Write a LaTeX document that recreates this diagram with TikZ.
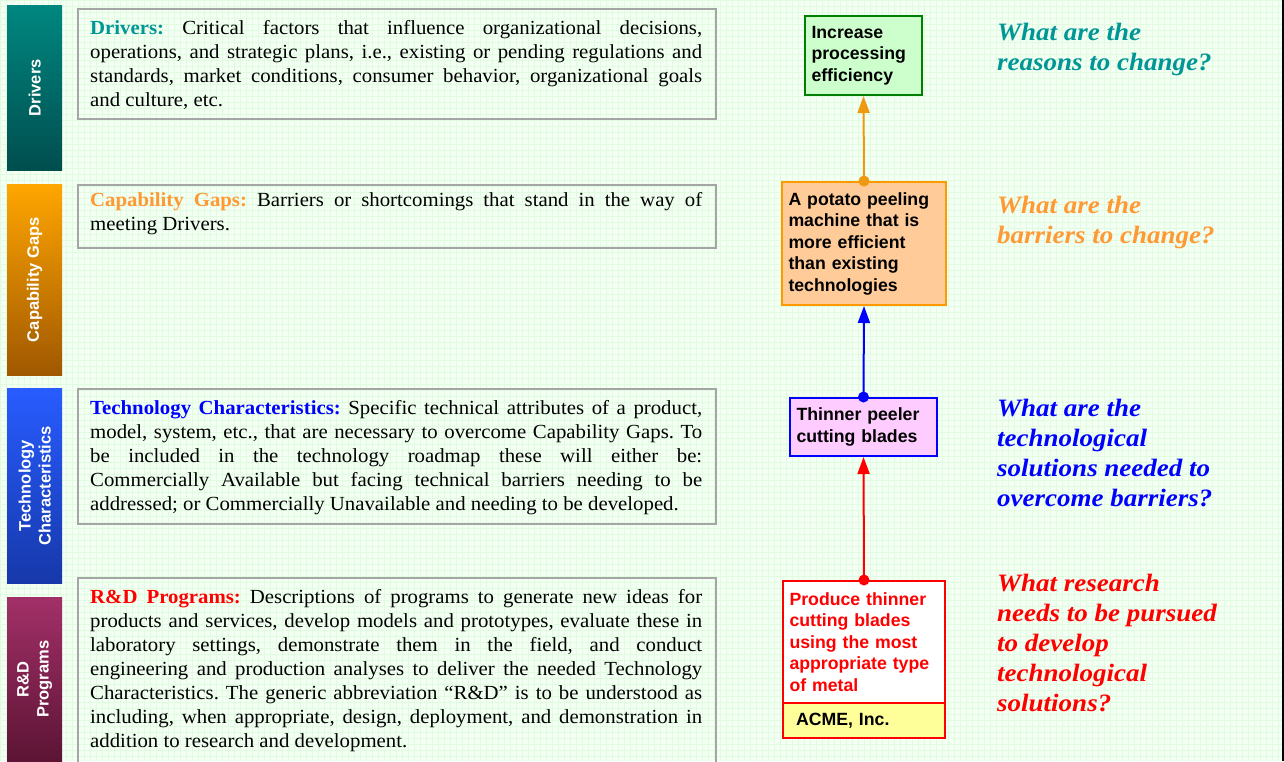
\documentclass[tikz,border=0pt]{standalone}
\usepackage{fontspec}
\setmainfont{Liberation Serif}[FakeStretch=1.04]
\setsansfont{Liberation Sans}
\newfontfamily\qfont{Liberation Serif}[FakeStretch=1.08]
\usetikzlibrary{arrows.meta}
\frenchspacing

% palette
\definecolor{bgfill}{RGB}{243,255,243}
\definecolor{gridline}{RGB}{225,251,225}
\definecolor{tealtop}{RGB}{0,135,128}
\definecolor{tealbot}{RGB}{0,78,78}
\definecolor{orgtop}{RGB}{255,166,0}
\definecolor{orgbot}{RGB}{160,88,0}
\definecolor{blutop}{RGB}{40,92,255}
\definecolor{blubot}{RGB}{22,56,170}
\definecolor{martop}{RGB}{162,48,104}
\definecolor{marbot}{RGB}{92,20,52}
\definecolor{graybd}{RGB}{165,165,165}
\definecolor{tealtxt}{RGB}{0,150,150}
\definecolor{orgtxt}{RGB}{255,153,51}
\definecolor{goalfill}{RGB}{204,255,204}
\definecolor{goalbd}{RGB}{0,128,0}
\definecolor{machfill}{RGB}{255,204,153}
\definecolor{machbd}{RGB}{255,153,0}
\definecolor{bladefill}{RGB}{255,204,255}
\definecolor{acmefill}{RGB}{255,255,153}
\definecolor{arrowor}{RGB}{238,153,17}

\begin{document}
\begin{tikzpicture}[x=1pt,y=-1pt,
  bar/.style={draw=none, anchor=north west, minimum width=55pt, inner sep=0pt},
  barlabel/.style={text=white, font=\sffamily\bfseries\fontsize{16.5}{20}\selectfont, rotate=90, align=center, inner sep=0pt},
  descbox/.style={draw=graybd, line width=1.5pt, anchor=north west, inner sep=0pt, minimum width=638pt},
  desctext/.style={anchor=base west, inner sep=0pt, font=\fontsize{20}{24}\selectfont},
  question/.style={anchor=base west, inner sep=0pt, font=\qfont\bfseries\itshape\fontsize{25}{30}\selectfont},
  stepbox/.style={draw, line width=2pt, anchor=north west, inner xsep=6.5pt, inner ysep=0pt, align=left,
    font=\sffamily\bfseries\fontsize{17.7}{21.5}\selectfont},
  conn/.style={line width=2pt, -{Triangle[length=17pt,width=12pt]}},
  startdot/.style={radius=5.5pt}
]
\useasboundingbox (0,0) rectangle (1284,761);
\clip (0,0) rectangle (1284,761);

% squared paper
\fill[bgfill] (0,0) rectangle (1284,761);
\foreach \i in {0,6,...,1284} \draw[gridline, line width=0.5pt] (\i,0) -- (\i,761);
\foreach \j in {0,6,...,761} \draw[gridline, line width=0.5pt] (0,\j) -- (1284,\j);
\draw[black, line width=2.5pt] (1282.8,0) -- (1282.8,761);

% layer bars
\node[bar, minimum height=165pt, top color=tealtop, bottom color=tealbot] (bdrv) at (7,5) {};
\node[barlabel] (ldrv) at (bdrv.center) {Drivers};
\node[bar, minimum height=191pt, top color=orgtop, bottom color=orgbot] (bcap) at (7,184) {};
\node[barlabel] (lcap) at (bcap.center) {Capability Gaps};
\node[bar, minimum height=195pt, top color=blutop, bottom color=blubot] (btech) at (7,388) {};
\node[barlabel] (ltech) at (btech.center) {Technology\\Characteristics};
\node[bar, minimum height=164pt, top color=martop, bottom color=marbot] (brd) at (7,597) {};
\node[barlabel] (lrd) at (brd.center) {R\&D\\Programs};

% definitions
\node[descbox, minimum height=110pt] (xdrv) at (77,8) {};
\node[desctext] (tdrv) at (90,34) {\parbox[t]{612pt}{\textcolor{tealtxt}{\textbf{Drivers:}} Critical factors that influence organizational decisions,\linebreak
operations, and strategic plans, i.e., existing or pending regulations and\linebreak
standards, market conditions, consumer behavior, organizational goals\linebreak
and culture, etc.}};

\node[descbox, minimum height=63pt] (xcap) at (77,184) {};
\node[desctext] (tcap) at (90,206) {\parbox[t]{612pt}{\textcolor{orgtxt}{\textbf{Capability Gaps:}} Barriers or shortcomings that stand in the way of\linebreak
meeting Drivers.}};

\node[descbox, minimum height=135pt] (xtech) at (77,388) {};
\node[desctext] (ttech) at (90,414) {\parbox[t]{612pt}{\textcolor{blue}{\textbf{Technology Characteristics:}} Specific technical attributes of a product,\linebreak
model, system, etc., that are necessary to overcome Capability Gaps. To\linebreak
be included in the technology roadmap these will either be:\linebreak
Commercially Available but facing technical barriers needing to be\linebreak
addressed; or Commercially Unavailable and needing to be developed.}};

\node[descbox, minimum height=200pt] (xrd) at (77,577) {};
\node[desctext] (trd) at (90,603) {\parbox[t]{612pt}{\textcolor{red}{\textbf{R\&D Programs:}} Descriptions of programs to generate new ideas for\linebreak
products and services, develop models and prototypes, evaluate these in\linebreak
laboratory settings, demonstrate them in the field, and conduct\linebreak
engineering and production analyses to deliver the needed Technology\linebreak
Characteristics. The generic abbreviation “R\&D” is to be understood as\linebreak
including, when appropriate, design, deployment, and demonstration in\linebreak
addition to research and development.}};

% roadmap chain
\node[stepbox, draw=goalbd, fill=goalfill, minimum width=117pt, minimum height=79pt, text width=104pt] (goal) at (804,15)
  {Increase\\processing\\efficiency};
\node[stepbox, draw=machbd, fill=machfill, minimum width=164pt, minimum height=123pt, text width=151pt] (mach) at (781,181)
  {A potato peeling\\machine that is\\more efficient\\than existing\\technologies};
\node[stepbox, draw=blue, fill=bladefill, minimum width=147pt, minimum height=58pt, text width=134pt] (blade) at (789,397)
  {Thinner peeler\\cutting blades};
\node[stepbox, draw=red, fill=white, text=red, minimum width=162pt, minimum height=122pt, text width=149pt] (prog) at (782,580)
  {Produce thinner\\cutting blades\\using the most\\appropriate type\\of metal};
\node[stepbox, draw=red, fill=acmefill, inner xsep=13pt, minimum width=162pt, minimum height=35pt, text width=136pt] (acme) at (782,702)
  {ACME, Inc.};

\draw[conn, arrowor] (mach.north) -- (goal.south);
\fill[arrowor, startdot] (mach.north) circle;
\draw[conn, blue] (blade.north) -- (mach.south);
\fill[blue, startdot] (blade.north) circle;
\draw[conn, red] (prog.north) -- (blade.south);
\fill[red, startdot] (prog.north) circle;

% guiding questions
\node[question, text=tealtxt] (qdrv) at (997,40) {\parbox[t]{280pt}{What are the\\reasons to change?}};
\node[question, text=orgtxt] (qcap) at (997,213) {\parbox[t]{280pt}{What are the\\barriers to change?}};
\node[question, text=blue] (qtech) at (997,416) {\parbox[t]{280pt}{What are the\\technological\\solutions needed to\\overcome barriers?}};
\node[question, text=red] (qrd) at (997,591) {\parbox[t]{280pt}{What research\\needs to be pursued\\to develop\\technological\\solutions?}};
\end{tikzpicture}
\end{document}
